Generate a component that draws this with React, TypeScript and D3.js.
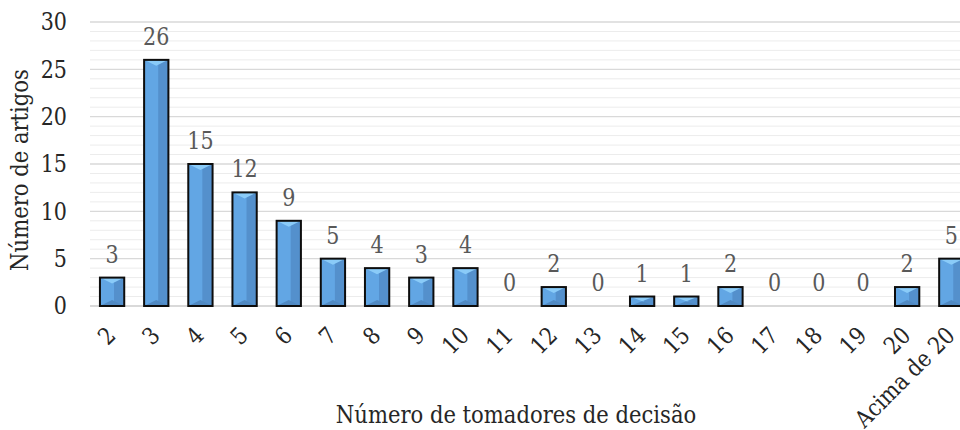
import React from "react";
import * as d3 from "d3";

// Articles per number of decision makers
const categories: string[] = [
  "2", "3", "4", "5", "6", "7", "8", "9", "10", "11",
  "12", "13", "14", "15", "16", "17", "18", "19", "20", "Acima de 20",
];
const values: number[] = [3, 26, 15, 12, 9, 5, 4, 3, 4, 0, 2, 0, 1, 1, 2, 0, 0, 0, 2, 5];
const yTicks: number[] = [0, 5, 10, 15, 20, 25, 30];
const yMinorTicks: number[] = d3.range(0, 31, 1);

const yTitle = "Número de artigos";
const xTitle = "Número de tomadores de decisão";

const W = 960;
const H = 430;
const FONT = '"DejaVu Serif", serif';
// DejaVu Serif is wide; squeeze it horizontally to get a Times-like set width
const SX = 0.88;
const TICK_FS = 23.5;
const TITLE_FS = 24;

export default function App() {
  const x = d3
    .scaleBand<string>()
    .domain(categories)
    .range([90, 973.4])
    .paddingInner(0.45)
    .paddingOuter(0.225);
  const y = d3.scaleLinear().domain([0, 30]).range([306, 22]);
  const bw = x.bandwidth();

  return (
    <svg
      width={W}
      height={H}
      style={{ position: "absolute", left: 0, top: 0, background: "#fff", overflow: "hidden" }}
    >
      {/* minor gridlines */}
      {yMinorTicks
        .filter((t) => t % 5 !== 0)
        .map((t) => (
          <line key={"m" + t} x1={90} x2={W} y1={y(t)} y2={y(t)} stroke="#ececec" strokeWidth={1} />
        ))}
      {/* major gridlines */}
      {yTicks
        .filter((t) => t !== 0)
        .map((t) => (
          <line key={"g" + t} x1={90} x2={W} y1={y(t)} y2={y(t)} stroke="#d9d9d9" strokeWidth={1.3} />
        ))}
      {/* baseline */}
      <line x1={90} x2={W} y1={y(0)} y2={y(0)} stroke="#d9d9d9" strokeWidth={2} />

      {/* y tick labels */}
      {yTicks.map((t) => (
        <text
          key={"yt" + t}
          transform={`translate(67,${y(t)}) scale(${SX},1)`}
          textAnchor="end"
          dominantBaseline="central"
          fontFamily={FONT}
          fontSize={TICK_FS}
          fill="#262626"
        >
          {t}
        </text>
      ))}

      {/* bars with bevel shading */}
      {categories.map((c, i) => {
        const v = values[i];
        if (v <= 0) return null;
        const x0 = x(c) as number;
        const y0 = y(v);
        const h = y(0) - y0;
        const b = Math.min(6, h / 2);
        const split = x0 + bw * 0.58;
        return (
          <g key={"b" + c}>
            <rect x={x0} y={y0} width={bw} height={h} fill="#62a6e4" />
            <rect x={split} y={y0} width={x0 + bw - split} height={h} fill="#5490cc" />
            <polygon
              points={`${x0},${y0 + h} ${x0 + bw},${y0 + h} ${x0 + bw / 2},${y0 + h - b}`}
              fill="#5089c2"
            />
            <polygon
              points={`${x0},${y0} ${x0 + bw},${y0} ${x0 + bw / 2},${y0 + b}`}
              fill="#8acbf8"
            />
            <rect x={x0} y={y0} width={bw} height={h} fill="none" stroke="#0d0d0d" strokeWidth={2} />
          </g>
        );
      })}

      {/* value labels */}
      {categories.map((c, i) => (
        <text
          key={"v" + c}
          transform={`translate(${(x(c) as number) + bw / 2},${y(values[i]) - 15}) scale(${SX},1)`}
          textAnchor="middle"
          fontFamily={FONT}
          fontSize={TICK_FS}
          fill="#595959"
        >
          {values[i]}
        </text>
      ))}

      {/* x tick labels, rotated */}
      {categories.map((c) => {
        const cx = (x(c) as number) + bw / 2 + 5;
        const cy = 337;
        return (
          <text
            key={"xt" + c}
            transform={`translate(${cx},${cy}) rotate(-45) scale(${SX},1)`}
            textAnchor="end"
            fontFamily={FONT}
            fontSize={TICK_FS}
            fill="#262626"
          >
            {c}
          </text>
        );
      })}

      {/* axis titles */}
      <text
        transform={`translate(28,170) rotate(-90) scale(${SX},1)`}
        textAnchor="middle"
        fontFamily={FONT}
        fontSize={TITLE_FS}
        fill="#262626"
      >
        {yTitle}
      </text>
      <text
        transform={`translate(516,423) scale(${SX},1)`}
        textAnchor="middle"
        fontFamily={FONT}
        fontSize={TITLE_FS}
        fill="#262626"
      >
        {xTitle}
      </text>
    </svg>
  );
}
